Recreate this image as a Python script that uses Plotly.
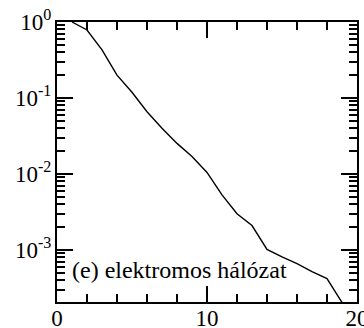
import plotly.graph_objects as go

x_vals = [1, 2, 3, 4, 5, 6, 7, 8, 9, 10, 11, 12, 13, 14, 15, 16, 17, 18, 19]
y_vals = [1.0, 0.785, 0.43, 0.20, 0.119, 0.066, 0.040, 0.0253, 0.017, 0.0105,
          0.0053, 0.0030, 0.0021, 0.00102, 0.00081, 0.00066, 0.00052, 0.00042, 0.000204]

x_tickvals = [0, 10, 20]
x_ticktext = ["0", "10", "20"]
y_exponents = [0, -1, -2, -3]
y_tickvals = [10.0 ** e for e in y_exponents]
y_ticktext = ["10<sup>%d</sup>" % e for e in y_exponents]
y_minor = [m * 10.0 ** e for e in [-4, -3, -2, -1] for m in range(2, 10)]

label_text = "(e) elektromos hálózat"

font_family = "Liberation Serif"

fig = go.Figure()
fig.add_trace(go.Scatter(x=x_vals, y=y_vals, mode="lines",
                         line=dict(color="black", width=1.4), showlegend=False))

fig.update_xaxes(range=[0, 20], tickmode="array", tickvals=x_tickvals, ticktext=x_ticktext,
                 ticks="inside", ticklen=16, tickwidth=1.5, tickcolor="black",
                 showline=True, linecolor="black", linewidth=2, mirror="allticks",
                 showgrid=False, zeroline=False, ticklabeloverflow="allow",
                 automargin=False, ticklabelstandoff=-6,
                 minor=dict(tickmode="linear", tick0=0, dtick=2, ticks="inside", ticklen=8,
                            tickwidth=1.5, tickcolor="black", showgrid=False),
                 tickfont=dict(family=font_family, size=23, color="black"))
fig.update_yaxes(type="log", range=[-3.684, 0], tickmode="array", tickvals=y_tickvals,
                 ticktext=y_ticktext,
                 ticks="inside", ticklen=16, tickwidth=1.5, tickcolor="black",
                 showline=True, linecolor="black", linewidth=2, mirror="allticks",
                 showgrid=False, zeroline=False, automargin=False, ticklabelstandoff=-1,
                 minor=dict(tickmode="array", tickvals=y_minor, ticks="inside", ticklen=8,
                            tickwidth=1.5, tickcolor="black", showgrid=False),
                 tickfont=dict(family=font_family, size=23, color="black"))

fig.add_annotation(text=label_text, xref="paper", yref="paper", x=0.043, y=0.114,
                   xanchor="left", yanchor="middle", showarrow=False,
                   font=dict(family=font_family, size=24, color="black"))

fig.update_layout(width=364, height=328, margin=dict(l=57, r=7, t=22, b=26, autoexpand=False),
                  plot_bgcolor="white", paper_bgcolor="white",
                  font=dict(family=font_family, size=23, color="black"))

fig.write_html("out.html")
